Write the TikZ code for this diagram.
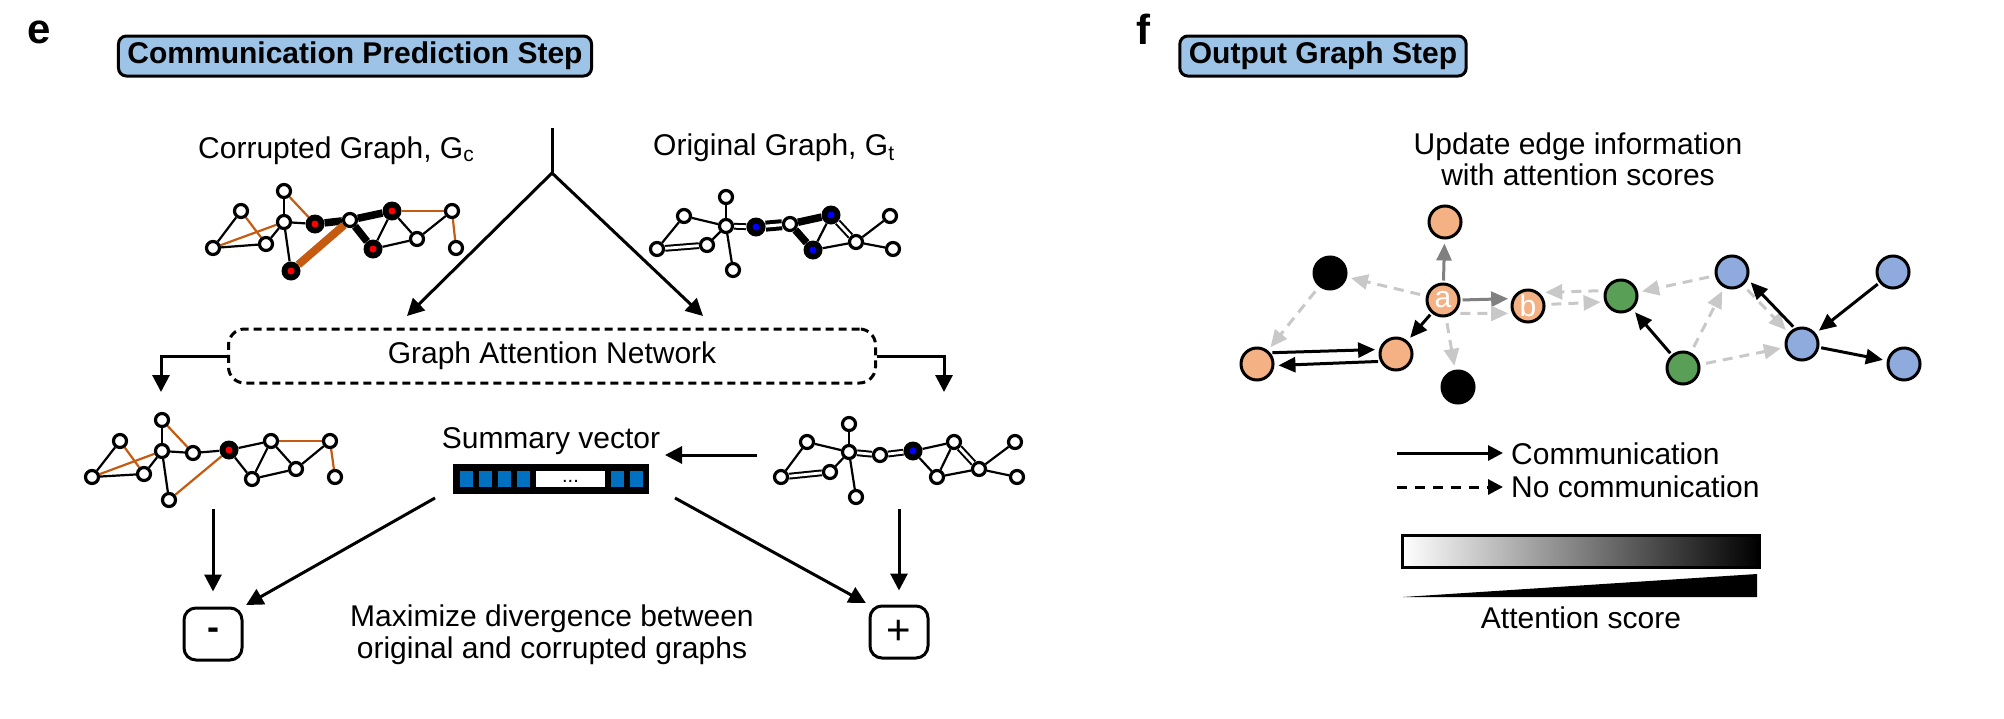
\documentclass[tikz,border=0pt]{standalone}
\usepackage{fontspec}
\setmainfont{Liberation Sans}
\usetikzlibrary{arrows.meta}
\pgfdeclarelayer{bg}
\pgfsetlayers{bg,main}
\definecolor{ttlblue}{HTML}{9DC3E6}
\definecolor{orng}{HTML}{C55A11}
\definecolor{vblue}{HTML}{0070C0}
\definecolor{nodeor}{HTML}{F4B183}
\definecolor{nodegr}{HTML}{5A9F56}
\definecolor{nodebl}{HTML}{8FAADC}
\definecolor{arrgray}{HTML}{808080}
\definecolor{arrlight}{HTML}{C8C8C8}
\begin{document}
\begin{tikzpicture}[x=1pt,y=-1pt,
  txt/.style={font=\fontsize{30}{31}\selectfont, inner sep=0pt},
  ttlbox/.style={draw=black, line width=3pt, fill=ttlblue, rounded corners=8pt,
     font=\fontsize{30}{36}\selectfont\bfseries, inner xsep=9pt, inner ysep=0pt, minimum height=40pt},
  plab/.style={font=\fontsize{42}{42}\selectfont\bfseries, inner sep=0pt},
  gn/.style={circle, draw=black, line width=3.2pt, fill=white, minimum size=13pt, inner sep=0pt},
  rn/.style={circle, fill=black, minimum size=19pt, inner sep=0pt,
     path picture={\fill[red] (path picture bounding box.center) circle (3.5pt);}},
  bn/.style={circle, fill=black, minimum size=19pt, inner sep=0pt,
     path picture={\fill[blue] (path picture bounding box.center) circle (3.5pt);}},
  ed/.style={line width=2.2pt},
  edk/.style={line width=7.5pt},
  edd/.style={line width=2pt, double=white, double distance=2.8pt},
  eddk/.style={line width=4pt, double=white, double distance=3pt},
  eo/.style={line width=2.2pt, draw=orng},
  eok/.style={line width=8pt, draw=orng},
  arr/.style={line width=3pt, -{Triangle[length=17pt,width=17pt]}},
  fn/.style={circle, draw=black, line width=3pt, minimum size=32pt, inner sep=0pt},
  farr/.style={line width=3pt, -{Triangle[length=17pt,width=15pt]}, shorten >=4pt, shorten <=2pt},
  fdash/.style={farr, draw=arrlight, dash pattern=on 10pt off 7pt, shorten <=6pt},
  fgray/.style={farr, draw=arrgray},
]
\useasboundingbox (0,0) rectangle (2004,718);

% ---------------- panel e ----------------
\node[plab, anchor=base west] (labe) at (27,43) {e};
\node[ttlbox] (ttle) at (355,56) {Communication Prediction Step};
\node[txt, anchor=base west] (gclab) at (198,158) {Corrupted Graph, G\textsubscript{c}};
\node[txt, anchor=base west] (gtlab) at (653,155) {Original Graph, G\textsubscript{t}};

% corrupted graph (top)
\foreach \n/\x/\y in {c1/213/248, c2/241/211, c3/266/244, c4/284/191, c5/284/222,
   c7/350/220, c11/417/239, c12/452/211, c13/456/248}
  \node[gn] (\n) at (\x,\y) {};
\foreach \n/\x/\y in {c6/315/224, c8/392/211, c9/291/271, c10/373/249}
  \node[rn] (\n) at (\x,\y) {};
\begin{pgfonlayer}{bg}
\foreach \a/\b in {c1/c2, c1/c3, c3/c5, c4/c5, c5/c6, c5/c9, c8/c10, c8/c11, c10/c11, c11/c12}
  \draw[ed] (\a) -- (\b);
\foreach \a/\b in {c6/c7, c7/c8, c7/c10}
  \draw[edk] (\a) -- (\b);
\foreach \a/\b in {c2/c3, c1/c5, c4/c6, c8/c12, c12/c13}
  \draw[eo] (\a) -- (\b);
\draw[eok] (c9) -- (c7);
\end{pgfonlayer}

% original graph (top)
\foreach \n/\x/\y in {o1/657/249, o2/684/216, o3/707/245, o4/726/197, o5/726/226,
   o7/790/224, o9/733/270, o11/856/242, o12/890/216, o13/893/249}
  \node[gn] (\n) at (\x,\y) {};
\foreach \n/\x/\y in {o6/756/227, o8/831/215, o10/813/250}
  \node[bn] (\n) at (\x,\y) {};
\begin{pgfonlayer}{bg}
\foreach \a/\b in {o1/o2, o2/o5, o3/o5, o4/o5, o5/o9, o8/o10, o10/o11, o11/o12, o11/o13}
  \draw[ed] (\a) -- (\b);
\foreach \a/\b in {o1/o3, o5/o6, o8/o11}
  \draw[edd] (\a) -- (\b);
\foreach \a/\b in {o7/o8, o7/o10}
  \draw[edk] (\a) -- (\b);
\draw[eddk] (o6) -- (o7);
\end{pgfonlayer}

% split arrows
\coordinate (apt) at (552,128);
\coordinate (apx) at (552,173);
\coordinate (gatinL) at (407,316);
\coordinate (gatinR) at (703,316);
\draw[line width=3pt] (apt) -- (apx);
\draw[arr] (apx) -- (gatinL);
\draw[arr] (apx) -- (gatinR);

% GAT box
\node[txt, draw=black, line width=3pt, dash pattern=on 8pt off 5pt, rounded corners=16pt,
  minimum width=647pt, minimum height=54pt] (gat) at (552,356) {Graph Attention Network};
\coordinate (lfd) at (161,392);
\coordinate (rgd) at (944,392);
\draw[arr] (gat.west) -| (lfd);
\draw[arr] (gat.east) -| (rgd);

% bottom-left graph
\foreach \n/\x/\y in {n1/92/477, n2/120/441, n3/144/474, n4/162/420, n5/162/451, n6/193/453,
   n8/169/500, n9/271/441, n10/252/479, n11/296/469, n12/330/441, n13/335/477}
  \node[gn] (\n) at (\x,\y) {};
\node[rn] (n7) at (229,450) {};
\begin{pgfonlayer}{bg}
\foreach \a/\b in {n1/n2, n1/n3, n3/n5, n4/n5, n5/n6, n5/n8, n6/n7, n7/n9, n7/n10, n9/n10, n9/n11, n10/n11, n11/n12}
  \draw[ed] (\a) -- (\b);
\foreach \a/\b in {n2/n3, n1/n5, n4/n6, n8/n7, n9/n12, n12/n13}
  \draw[eo] (\a) -- (\b);
\end{pgfonlayer}

% bottom-right graph
\foreach \n/\x/\y in {r1/781/477, r2/807/442, r3/830/472, r4/849/424, r5/849/452, r6/880/455,
   r8/856/497, r9/954/442, r10/937/477, r11/979/469, r12/1015/442, r13/1017/477}
  \node[gn] (\n) at (\x,\y) {};
\node[bn] (r7) at (913,451) {};
\begin{pgfonlayer}{bg}
\foreach \a/\b in {r1/r2, r2/r5, r3/r5, r4/r5, r5/r8, r7/r9, r7/r10, r9/r10, r10/r11, r11/r12, r11/r13}
  \draw[ed] (\a) -- (\b);
\foreach \a/\b in {r1/r3, r5/r6, r6/r7, r9/r11}
  \draw[edd] (\a) -- (\b);
\end{pgfonlayer}

% summary vector
\node[txt, anchor=base] (sumtxt) at (551,448) {Summary vector};
\node[fill=black, minimum width=196pt, minimum height=30pt, inner sep=0pt] (bar) at (551,479) {};
\foreach \x in {460,479,498,517,611,630}
  \fill[vblue] (\x,471) rectangle ++(13,16);
\fill[white] (536,471) rectangle (605,487);
\node[font=\fontsize{20}{20}\selectfont, inner sep=0pt, anchor=base] (dots) at (570.5,482) {...};
\coordinate (svin) at (757,455);
\coordinate (svout) at (665,455);
\draw[arr] (svin) -- (svout);

% minus / plus
\node[draw=black, line width=3pt, rounded corners=12pt, minimum width=58pt, minimum height=52pt,
  inner sep=0pt, font=\fontsize{36}{36}\selectfont\bfseries] (minus) at (213,634) {\raisebox{-4pt}{-}};
\node[draw=black, line width=3pt, rounded corners=12pt, minimum width=58pt, minimum height=52pt,
  inner sep=0pt, font=\fontsize{42}{42}\selectfont] (plus) at (899,632) {\raisebox{-2.4pt}{+}};
\coordinate (mvs) at (213,509);
\coordinate (pvs) at (899,509);
\draw[arr, shorten >=15pt] (mvs) -- (minus.north);
\draw[arr, shorten >=14pt] (pvs) -- (plus.north);
\coordinate (bml) at (435,498);
\coordinate (bmr) at (675,498);
\draw[arr, shorten >=3pt] (bml) -- (minus.north east);
\draw[arr, shorten >=3pt] (bmr) -- (plus.north west);
\node[txt, align=center, font=\fontsize{30}{32}\selectfont] (maxt) at (552,635)
  {Maximize divergence between\\original and corrupted graphs};

% ---------------- panel f ----------------
\node[plab, anchor=base west] (labf) at (1136,44) {f};
\node[ttlbox] (ttlf) at (1323,56) {Output Graph Step};
\node[txt, align=center, font=\fontsize{30}{31}\selectfont] (upd) at (1578,159)
  {Update edge information\\with attention scores};

\node[fn, fill=nodeor] (ftop) at (1445,222) {};
\node[fn, fill=black] (fk1) at (1330,273) {};
\node[fn, fill=nodeor, text=white, font=\fontsize{30}{30}\selectfont] (fa) at (1443,300) {a};
\node[fn, fill=nodeor, text=white, font=\fontsize{30}{30}\selectfont] (fb) at (1528,306) {b};
\node[fn, fill=nodegr] (fg1) at (1621,296) {};
\node[fn, fill=nodeor] (fol) at (1257,364) {};
\node[fn, fill=nodeor] (fom) at (1396,354) {};
\node[fn, fill=black] (fk2) at (1458,387) {};
\node[fn, fill=nodegr] (fg2) at (1683,368) {};
\node[fn, fill=nodebl] (fu1) at (1732,272) {};
\node[fn, fill=nodebl] (fu2) at (1893,272) {};
\node[fn, fill=nodebl] (fu3) at (1802,344) {};
\node[fn, fill=nodebl] (fu4) at (1904,364) {};

\draw[fgray] (fa) -- (ftop);
\draw[fgray] (fa.east) -- (fb.155);
\draw[fdash] (fa.-50) -- (fb.205);
\draw[farr] (fa) -- (fom);
\draw[fdash] (fa) -- (fk1);
\draw[fdash] (fa) -- (fk2);
\draw[fdash] (fk1) -- (fol);
\draw[farr] (fol.40) -- (fom.165);
\draw[farr] (fom.205) -- (fol.-5);
\draw[fdash, shorten >=6pt] (fg1.162) -- (fb.50);
\draw[fdash] (fb.5) -- (fg1.200);
\draw[fdash] (fu1) -- (fg1);
\draw[farr] (fg2) -- (fg1);
\draw[fdash] (fg2) -- (fu1);
\draw[fdash] (fg2) -- (fu3);
\draw[fdash] (fu1.-50) -- (fu3.140);
\draw[farr] (fu3.115) -- (fu1.-25);
\draw[farr] (fu2) -- (fu3);
\draw[farr] (fu3) -- (fu4);

% legend
\coordinate (lg1a) at (1397,453);
\coordinate (lg1b) at (1503,453);
\coordinate (lg2a) at (1397,487);
\coordinate (lg2b) at (1503,487);
\draw[line width=3pt, -{Triangle[length=15pt,width=15pt]}] (lg1a) -- (lg1b);
\draw[line width=3pt, dash pattern=on 10pt off 8pt, -{Triangle[length=15pt,width=15pt]}] (lg2a) -- (lg2b);
\node[txt, anchor=base west] (lgt1) at (1511,464) {Communication};
\node[txt, anchor=base west] (lgt2) at (1511,497) {No communication};

\shade[left color=white, right color=black] (1402,535) rectangle (1759,567);
\draw[line width=3pt] (1402,535) rectangle (1759,567);
\fill[black] (1403,597) -- (1757,574) -- (1757,597) -- cycle;
\node[txt, anchor=base] (attn) at (1581,628) {Attention score};
\end{tikzpicture}
\end{document}
